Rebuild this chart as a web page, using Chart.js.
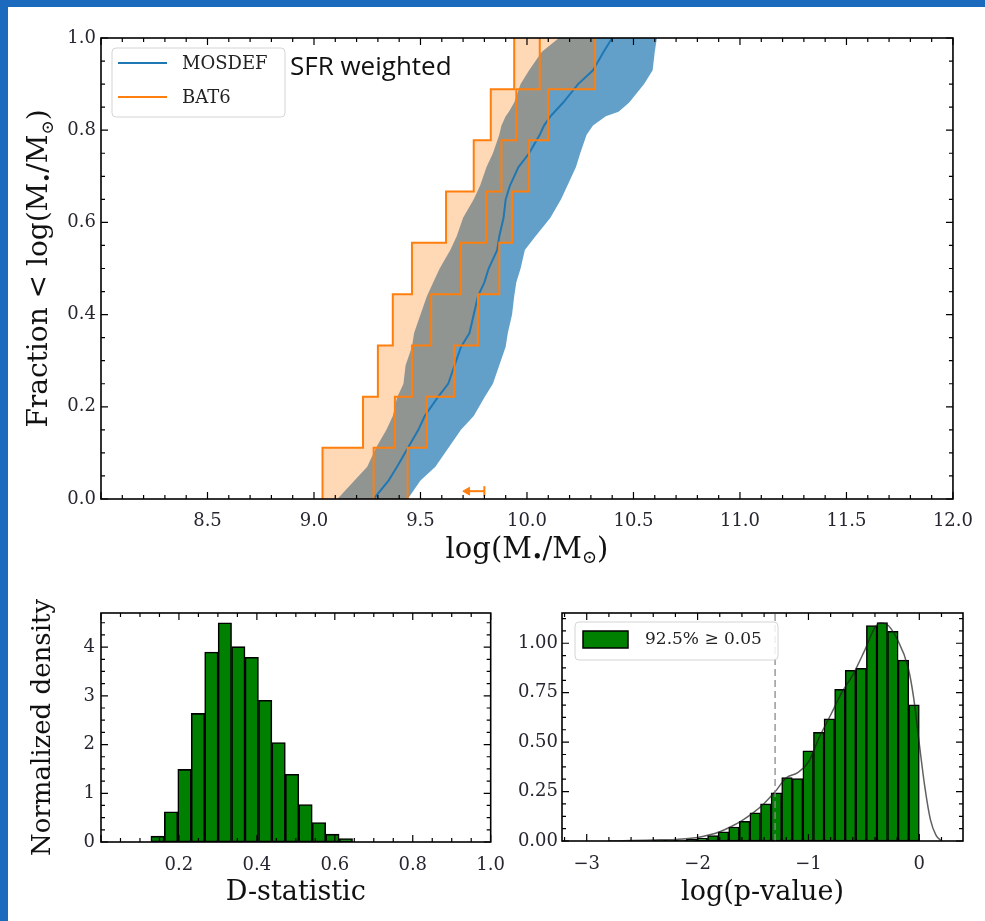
<!DOCTYPE html>
<html>
<head>
<meta charset="utf-8">
<script src="https://cdn.jsdelivr.net/npm/chart.js@4.4.1/dist/chart.umd.min.js"></script>
<style>
  html, body { margin: 0; padding: 0; background: #fff; }
  #page { position: relative; width: 985px; height: 921px; overflow: hidden; background: #fff; }
  .band { position: absolute; background: #1b6abd; }
  canvas { position: absolute; }
</style>
</head>
<body>
<div id="page">
  <div class="band" style="left:0;top:0;width:985px;height:7px"></div>
  <div class="band" style="left:0;top:0;width:8px;height:921px"></div>
  <canvas id="cTop" width="977" height="575" style="left:8px;top:7px"></canvas>
  <canvas id="cD" width="510" height="336" style="left:8px;top:585px"></canvas>
  <canvas id="cP" width="485" height="336" style="left:500px;top:585px"></canvas>
</div>
<script>
// ─── Data: top panel (cumulative stellar-mass fractions) ─────

const BAT6_LEVELS = [0.111, 0.222, 0.333, 0.444, 0.556, 0.667, 0.778, 0.889, 1.0];
const BAT6_LO  = [9.04, 9.23, 9.30, 9.37, 9.46, 9.62, 9.75, 9.83, 9.94];
const BAT6_MID = [9.28, 9.38, 9.46, 9.55, 9.69, 9.81, 9.88, 9.95, 10.06];
const BAT6_HI  = [9.44, 9.53, 9.66, 9.77, 9.87, 9.93, 10.01, 10.10, 10.32];

const MOS_FRAC = [0, 0.04, 0.07, 0.11, 0.15, 0.18, 0.22, 0.25, 0.29, 0.33, 0.36, 0.40, 0.44, 0.47, 0.50,
                  0.54, 0.57, 0.61, 0.65, 0.68, 0.72, 0.75, 0.79, 0.81, 0.83, 0.84, 0.86, 0.90, 0.93, 0.97, 1.0];
const MOS_LO   = [9.11, 9.19, 9.25, 9.29, 9.34, 9.37, 9.39, 9.42, 9.43, 9.46, 9.47, 9.50, 9.53, 9.56, 9.59,
                  9.64, 9.67, 9.70, 9.75, 9.78, 9.81, 9.84, 9.87, 9.88, 9.90, 9.915, 9.94, 9.97, 10.01, 10.07, 10.15];
const MOS_MED  = [9.28, 9.35, 9.39, 9.44, 9.49, 9.52, 9.58, 9.63, 9.66, 9.69, 9.73, 9.75, 9.77, 9.80, 9.82,
                  9.86, 9.87, 9.89, 9.90, 9.92, 9.96, 10.01, 10.06, 10.08, 10.11, 10.13, 10.17, 10.24, 10.31, 10.36, 10.40];
const MOS_HI   = [9.44, 9.50, 9.57, 9.63, 9.69, 9.75, 9.80, 9.84, 9.87, 9.90, 9.91, 9.93, 9.94, 9.95, 9.97,
                  9.99, 10.04, 10.11, 10.16, 10.19, 10.23, 10.25, 10.28, 10.31, 10.37, 10.43, 10.48, 10.55, 10.59, 10.60, 10.61];

const LIMIT_X = [9.72, 9.80];
const LIMIT_Y = [0.017, 0.017];

// ─── Data: D-statistic histogram ─────────────────────────

const D_BINS = [0.1453, 0.1798, 0.2143, 0.2488, 0.2833, 0.3178, 0.3523, 0.3868, 0.4213, 0.4558,
                0.4903, 0.5248, 0.5593, 0.5938, 0.6283];
const D_DENS = [0.12, 0.62, 1.49, 2.64, 3.90, 4.50, 4.01, 3.79, 2.91, 2.04, 1.39, 0.77, 0.40, 0.16, 0.07];

// ─── Data: log(p-value) histogram + KDE ──────────────────

const P_BINS = [-2.3398, -2.2443, -2.1488, -2.0533, -1.9578, -1.8623, -1.7668, -1.6713, -1.5758, -1.4803,
                -1.3848, -1.2893, -1.1938, -1.0983, -1.0028, -0.9073, -0.8118, -0.7163, -0.6208, -0.5253,
                -0.4298, -0.3343, -0.2388, -0.1433, -0.0478];
const P_DENS = [0.003, 0.004, 0.005, 0.008, 0.014, 0.027, 0.046, 0.071, 0.100, 0.142,
                0.188, 0.243, 0.321, 0.316, 0.456, 0.549, 0.618, 0.767, 0.863, 0.873,
                1.090, 1.105, 1.060, 0.915, 0.688];
const KDE_X = [-2.8, -2.6, -2.4, -2.2, -2.0, -1.9, -1.8, -1.7, -1.6, -1.5, -1.4, -1.3, -1.2, -1.1, -1.0, -0.9,
               -0.8, -0.7, -0.6, -0.5, -0.4, -0.35, -0.3, -0.2, -0.1, -0.05, 0.0, 0.05, 0.1, 0.15, 0.2];
const KDE_Y = [0.000, 0.002, 0.005, 0.008, 0.018, 0.030, 0.047, 0.072, 0.103, 0.142, 0.190, 0.250, 0.320, 0.345,
               0.400, 0.527, 0.637, 0.750, 0.840, 0.955, 1.080, 1.103, 1.098, 1.022, 0.875, 0.720, 0.490, 0.272,
               0.108, 0.030, 0.000];
const P_CUT = -1.301;   // log10(0.05)

// ─── Style ───────────────────────────────────────────────

const SERIF = '"DejaVu Serif", serif';
const BLUE = '#1f77b4';
const ORANGE = '#ff7f0e';
const GREEN = '#008000';
const TICK_FONT = { family: SERIF, size: 18 };
const TICK_COLOR = '#262630';

Chart.defaults.font.family = SERIF;

// ─── Helpers ─────────────────────────────────────────────

function xy(xs, ys) {
  return xs.map((x, i) => ({ x, y: ys[i] }));
}

// empirical CDF corners: vertical jump at each x
function stepPts(xs, levels) {
  const pts = [{ x: xs[0], y: 0 }];
  xs.forEach((x, i) => {
    if (i > 0) pts.push({ x, y: levels[i - 1] });
    pts.push({ x, y: levels[i] });
  });
  return pts;
}

function bandPts(loX, hiX, ys) {
  return xy(loX, ys).concat(xy(hiX, ys).reverse());
}

// ─── Plugins ─────────────────────────────────────────────

const boxTicks = {
  id: 'boxTicks',
  afterDatasetsDraw(chart, args, o) {
    const { ctx, chartArea: a, scales: { x, y } } = chart;
    const each = (scale, step, fn) => {
      const n0 = Math.ceil(scale.min / step - 1e-6), n1 = Math.floor(scale.max / step + 1e-6);
      for (let n = n0; n <= n1; n++) fn(scale.getPixelForValue(n * step));
    };
    ctx.save();
    ctx.strokeStyle = '#000';
    ctx.lineWidth = 1.2;
    ctx.beginPath();
    [[o.xMinor, 4], [o.xMajor, 7]].forEach(([st, len]) => each(x, st, p => {
      ctx.moveTo(p, a.bottom); ctx.lineTo(p, a.bottom - len);
      ctx.moveTo(p, a.top); ctx.lineTo(p, a.top + len);
    }));
    [[o.yMinor, 4], [o.yMajor, 7]].forEach(([st, len]) => each(y, st, p => {
      ctx.moveTo(a.left, p); ctx.lineTo(a.left + len, p);
      ctx.moveTo(a.right, p); ctx.lineTo(a.right - len, p);
    }));
    ctx.stroke();
    ctx.lineWidth = 1.6;
    ctx.strokeRect(a.left, a.top, a.right - a.left, a.bottom - a.top);
    ctx.restore();
  }
};

const axisTitles = {
  id: 'axisTitles',
  afterDraw(chart, args, o) {
    const { ctx, chartArea: a } = chart;
    (o.items || []).forEach(t => {
      const main = t.size + 'px ' + SERIF;
      const sub = Math.round(t.size * 0.62) + 'px ' + SERIF;
      ctx.save();
      if (t.rotate) {
        ctx.translate(t.x, (a.top + a.bottom) / 2);
        ctx.rotate(-Math.PI / 2);
      } else {
        ctx.translate((a.left + a.right) / 2, a.bottom + t.dy);
      }
      ctx.fillStyle = '#111';
      ctx.textBaseline = 'middle';
      ctx.textAlign = 'left';
      let w = 0;
      t.parts.forEach(p => { ctx.font = p[1] ? sub : main; w += ctx.measureText(p[0]).width; });
      let x = -w / 2;
      t.parts.forEach(p => {
        ctx.font = p[1] ? sub : main;
        ctx.fillText(p[0], x, p[1] ? t.size * 0.3 : 0);
        x += ctx.measureText(p[0]).width;
      });
      ctx.restore();
    });
  }
};

const boxLegend = {
  id: 'boxLegend',
  afterDraw(chart, args, o) {
    if (!o.items) return;
    const { ctx } = chart;
    ctx.save();
    ctx.beginPath();
    ctx.roundRect(o.x, o.y, o.w, o.h, 4);
    ctx.fillStyle = 'rgba(255,255,255,0.85)';
    ctx.fill();
    ctx.strokeStyle = '#d4d4d4';
    ctx.lineWidth = 1;
    ctx.stroke();
    ctx.textBaseline = 'middle';
    ctx.font = o.size + 'px ' + SERIF;
    o.items.forEach(it => {
      if (it.patch) {
        ctx.fillStyle = it.color;
        ctx.fillRect(it.sx, it.y - 8, it.sw, 17);
        ctx.strokeStyle = '#000';
        ctx.lineWidth = 1.5;
        ctx.strokeRect(it.sx, it.y - 8, it.sw, 17);
      } else {
        ctx.strokeStyle = it.color;
        ctx.lineWidth = 2;
        ctx.beginPath();
        ctx.moveTo(it.sx, it.y); ctx.lineTo(it.sx + it.sw, it.y);
        ctx.stroke();
      }
      ctx.fillStyle = '#222';
      ctx.fillText(it.text, it.tx, it.y + 1);
    });
    if (o.note) {
      ctx.font = o.note.font;
      ctx.fillStyle = '#111';
      ctx.textBaseline = 'alphabetic';
      ctx.fillText(o.note.text, o.note.x, o.note.y);
    }
    ctx.restore();
  }
};

function linAxis(min, max, step, pad, fmt, fit) {
  return {
    type: 'linear', min, max, offset: false,
    grid: { display: false, drawTicks: false },
    border: { display: false },
    ticks: {
      stepSize: step, includeBounds: false, autoSkip: false, maxRotation: 0,
      padding: pad, color: TICK_COLOR, font: TICK_FONT, callback: fmt,
    },
    afterFit: fit,
  };
}

const MSUB = [['•', 1], ['/M'], ['⊙', 1], [')']];

// ─── Top panel ───────────────────────────────────────────

new Chart(document.getElementById('cTop'), {
  type: 'line',
  data: {
    datasets: [
      { data: bandPts(MOS_LO, MOS_HI, MOS_FRAC), fill: 'shape', backgroundColor: 'rgba(31,119,180,0.7)',
        borderWidth: 0, pointRadius: 0, order: 6 },
      { data: stepPts(BAT6_LO, BAT6_LEVELS).concat(stepPts(BAT6_HI, BAT6_LEVELS).reverse()), fill: 'shape',
        backgroundColor: 'rgba(255,127,14,0.3)', borderWidth: 0, pointRadius: 0, order: 5 },
      { label: 'MOSDEF', data: xy(MOS_MED, MOS_FRAC), borderColor: BLUE, borderWidth: 2, pointRadius: 0, fill: false, order: 4 },
      { data: stepPts(BAT6_LO, BAT6_LEVELS), borderColor: ORANGE, borderWidth: 2, pointRadius: 0, fill: false, order: 3 },
      { label: 'BAT6', data: stepPts(BAT6_MID, BAT6_LEVELS), borderColor: ORANGE, borderWidth: 2, pointRadius: 0, fill: false, order: 3 },
      { data: stepPts(BAT6_HI, BAT6_LEVELS), borderColor: ORANGE, borderWidth: 2, pointRadius: 0, fill: false, order: 3 },
      { data: xy(LIMIT_X, LIMIT_Y), borderColor: ORANGE, borderWidth: 2, fill: false, order: 1,
        pointStyle: ['triangle', 'line'], pointRotation: [-90, 90], pointRadius: [4.5, 5],
        pointBackgroundColor: ORANGE, pointBorderColor: ORANGE, pointBorderWidth: [1, 2] },
    ],
  },
  options: {
    responsive: false,
    animation: false,
    events: [],
    layout: { padding: { left: 0, top: 31, right: 23, bottom: 0 } },
    scales: {
      x: linAxis(8, 12, 0.5, 12, v => (v < 8.01 ? '' : v.toFixed(1)), s => { s.height = 83; }),
      y: linAxis(0, 1, 0.2, 5, v => v.toFixed(1), s => { s.width = 93; }),
    },
    plugins: {
      legend: { display: false },
      tooltip: { enabled: false },
      boxTicks: { xMajor: 0.5, xMinor: 0.1, yMajor: 0.2, yMinor: 0.05 },
      axisTitles: { items: [
        { parts: [['log(M']].concat(MSUB), size: 29, dy: 51 },
        { parts: [['Fraction < log(M']].concat(MSUB), size: 28, rotate: true, x: 32 },
      ] },
      boxLegend: {
        x: 104, y: 41, w: 173, h: 69, size: 18,
        items: [
          { text: 'MOSDEF', color: BLUE, sx: 110, sw: 49, y: 56, tx: 174 },
          { text: 'BAT6', color: ORANGE, sx: 110, sw: 49, y: 90, tx: 174 },
        ],
        note: { text: 'SFR weighted', font: '26px "Open Sans", Lato, sans-serif', x: 282, y: 68 },
      },
    },
  },
  plugins: [boxTicks, axisTitles, boxLegend],
});

// ─── Bottom left: D-statistic ────────────────────────────

new Chart(document.getElementById('cD'), {
  type: 'bar',
  data: {
    datasets: [{
      data: xy(D_BINS, D_DENS), backgroundColor: GREEN, borderColor: '#000', borderWidth: 1.6,
      borderSkipped: false, barPercentage: 1, categoryPercentage: 1,
    }],
  },
  options: {
    responsive: false,
    animation: false,
    events: [],
    layout: { padding: { left: 0, top: 28, right: 20, bottom: 0 } },
    scales: {
      x: linAxis(0, 1, 0.2, 13, v => (v < 0.01 ? '' : v.toFixed(1)), s => { s.height = 79; }),
      y: linAxis(0, 4.7, 1, 6, v => v.toFixed(0), s => { s.width = 93; }),
    },
    plugins: {
      legend: { display: false },
      tooltip: { enabled: false },
      boxTicks: { xMajor: 0.2, xMinor: 0.05, yMajor: 1, yMinor: 0.25 },
      axisTitles: { items: [
        { parts: [['D-statistic']], size: 27, dy: 51 },
        { parts: [['Normalized density']], size: 26, rotate: true, x: 35 },
      ] },
    },
  },
  plugins: [boxTicks, axisTitles],
});

// ─── Bottom right: log(p-value) ──────────────────────────

new Chart(document.getElementById('cP'), {
  type: 'bar',
  data: {
    datasets: [
      { data: xy(P_BINS, P_DENS), backgroundColor: GREEN, borderColor: '#000', borderWidth: 1.5,
        borderSkipped: false, barPercentage: 1, categoryPercentage: 1, order: 3 },
      { type: 'line', data: xy(KDE_X, KDE_Y), borderColor: 'rgba(30,30,30,0.7)', borderWidth: 1.5,
        cubicInterpolationMode: 'monotone', pointRadius: 0, fill: false, order: 2 },
      { type: 'line', data: xy([P_CUT, P_CUT], [0, 1.153]), borderColor: '#8a8a8a', borderWidth: 1.3,
        borderDash: [7, 4], pointRadius: 0, fill: false, order: 1 },
    ],
  },
  options: {
    responsive: false,
    animation: false,
    events: [],
    layout: { padding: { left: 0, top: 28, right: 22, bottom: 0 } },
    scales: {
      x: linAxis(-3.223, 0.394, 1, 13, v => String(v).replace('-', '\u2212'), s => { s.height = 80; }),
      y: linAxis(0, 1.153, 0.25, 4, v => v.toFixed(2), s => { s.width = 62; }),
    },
    plugins: {
      legend: { display: false },
      tooltip: { enabled: false },
      boxTicks: { xMajor: 1, xMinor: 0.2, yMajor: 0.25, yMinor: 0.0625 },
      axisTitles: { items: [
        { parts: [['log(p-value)']], size: 27, dy: 52 },
      ] },
      boxLegend: {
        x: 75, y: 37, w: 203, h: 38, size: 17,
        items: [
          { text: '92.5% ≥ 0.05', color: GREEN, patch: true, sx: 83, sw: 45, y: 54, tx: 145 },
        ],
      },
    },
  },
  plugins: [boxTicks, axisTitles, boxLegend],
});
</script>
</body>
</html>
